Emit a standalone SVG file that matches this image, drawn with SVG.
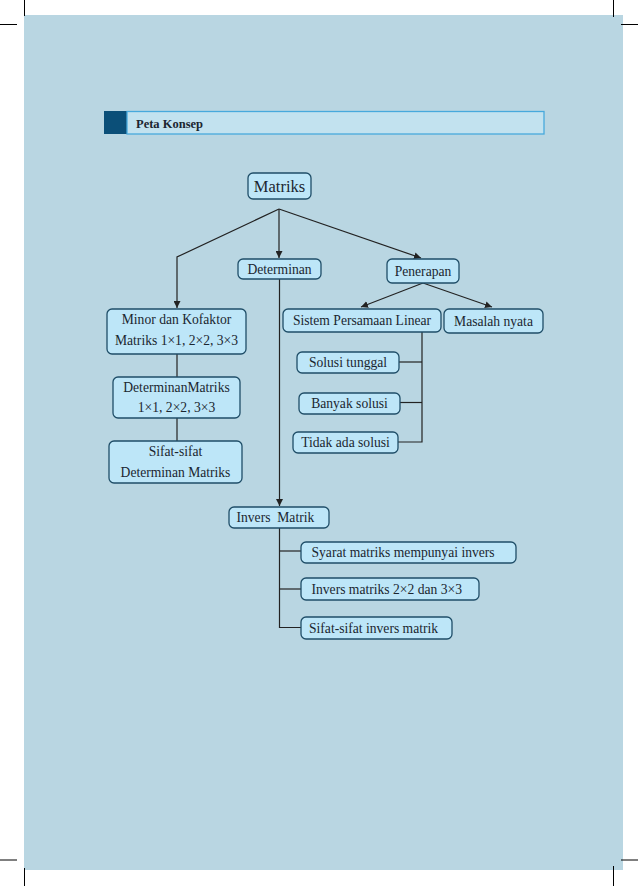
<svg xmlns="http://www.w3.org/2000/svg" width="638" height="886" viewBox="0 0 638 886">
<style>
.box{fill:#bde6f8;stroke:#1f4e68;stroke-width:1.3}
.t{font-family:"Liberation Serif","Times New Roman",serif;font-size:13.6px;fill:#1b2630}
.m{text-anchor:middle}
.ln{fill:none;stroke:#222;stroke-width:1.2}
.crop{stroke:#000;stroke-width:1}
</style>
<defs>
<marker id="ah" viewBox="0 0 10 10" refX="10" refY="5" markerWidth="7" markerHeight="7" markerUnits="userSpaceOnUse" orient="auto">
<path d="M0,0 L10,5 L0,10 z" fill="#222"/>
</marker>
</defs>
<rect x="0" y="0" width="638" height="886" fill="#fff"/>
<rect x="24" y="15" width="599" height="855" fill="#b9d6e2"/>
<g id="cropmarks">
<line class="crop" x1="24.5" y1="0" x2="24.5" y2="16"/>
<line class="crop" x1="0" y1="24.5" x2="17" y2="24.5"/>
<line class="crop" x1="613.5" y1="0" x2="613.5" y2="17"/>
<line class="crop" x1="621" y1="24.5" x2="638" y2="24.5"/>
<line class="crop" x1="0" y1="860" x2="17" y2="860"/>
<line class="crop" x1="24.5" y1="868" x2="24.5" y2="886"/>
<line class="crop" x1="621" y1="860" x2="638" y2="860"/>
<line class="crop" x1="613.5" y1="866" x2="613.5" y2="886"/>
</g>
<g id="header">
<rect x="104" y="111" width="23" height="23" fill="#0b4f78"/>
<rect x="127" y="111.5" width="417" height="22.5" fill="#c2e2ef" stroke="#47a9dc" stroke-width="1.3"/>
<text x="136" y="127.5" style="font-family:'Liberation Serif','Times New Roman',serif;font-size:12.5px;font-weight:bold;fill:#1b2630">Peta Konsep</text>
</g>
<g id="connectors">
<polyline class="ln" points="279,209 177,257 177,308" marker-end="url(#ah)"/>
<line class="ln" x1="279" y1="209" x2="279" y2="258" marker-end="url(#ah)"/>
<line class="ln" x1="279" y1="209" x2="421" y2="258" marker-end="url(#ah)"/>
<line class="ln" x1="423" y1="283" x2="361" y2="307" marker-end="url(#ah)"/>
<line class="ln" x1="423" y1="283" x2="492" y2="307" marker-end="url(#ah)"/>
<line class="ln" x1="177" y1="354" x2="177" y2="377"/>
<line class="ln" x1="177" y1="418" x2="177" y2="441"/>
<line class="ln" x1="279.5" y1="279" x2="279.5" y2="506" marker-end="url(#ah)"/>
<polyline class="ln" points="422,332 422,442 398,442"/>
<line class="ln" x1="399" y1="362" x2="422" y2="362"/>
<line class="ln" x1="400" y1="402.5" x2="422" y2="402.5"/>
<polyline class="ln" points="279.5,528 279.5,627.5 301,627.5"/>
<line class="ln" x1="279.5" y1="551" x2="301" y2="551"/>
<line class="ln" x1="279.5" y1="589" x2="301" y2="589"/>
</g>
<g id="n-matriks">
<rect class="box" x="248" y="173" width="63" height="26" rx="5"/>
<text class="t m" x="279.5" y="192" style="font-size:16.5px">Matriks</text>
</g>
<g id="n-determinan">
<rect class="box" x="238" y="259" width="83" height="20" rx="5"/>
<text class="t m" x="279.5" y="273.5">Determinan</text>
</g>
<g id="n-penerapan">
<rect class="box" x="387" y="259" width="72" height="24" rx="5"/>
<text class="t m" x="423" y="275.5">Penerapan</text>
</g>
<g id="n-minor">
<rect class="box" x="107" y="309" width="139" height="45" rx="5"/>
<text class="t m" x="176.5" y="323.5">Minor dan Kofaktor</text>
<text class="t m" x="176.5" y="344.5">Matriks 1×1, 2×2, 3×3</text>
</g>
<g id="n-detmatriks">
<rect class="box" x="113" y="377" width="127" height="41" rx="5"/>
<text class="t m" x="176.5" y="391.5">DeterminanMatriks</text>
<text class="t m" x="176.5" y="411.5">1×1, 2×2, 3×3</text>
</g>
<g id="n-sifat">
<rect class="box" x="109" y="441" width="133" height="42" rx="5"/>
<text class="t m" x="175.5" y="455.5">Sifat-sifat</text>
<text class="t m" x="175.5" y="476.5">Determinan Matriks</text>
</g>
<g id="n-sistem">
<rect class="box" x="283" y="309" width="158" height="23" rx="5"/>
<text class="t m" x="362" y="325">Sistem Persamaan Linear</text>
</g>
<g id="n-masalah">
<rect class="box" x="444" y="309" width="99" height="24" rx="5"/>
<text class="t m" x="493.5" y="325.5">Masalah nyata</text>
</g>
<g id="n-tunggal">
<rect class="box" x="297" y="352" width="102" height="21" rx="5"/>
<text class="t m" x="348" y="366.5">Solusi tunggal</text>
</g>
<g id="n-banyak">
<rect class="box" x="299" y="393" width="101" height="21" rx="5"/>
<text class="t m" x="349.5" y="407.5">Banyak solusi</text>
</g>
<g id="n-tidak">
<rect class="box" x="293" y="432" width="105" height="21" rx="5"/>
<text class="t m" x="345.5" y="446.5">Tidak ada solusi</text>
</g>
<g id="n-invers">
<rect class="box" x="229" y="507" width="100" height="21" rx="5"/>
<text class="t" x="236.5" y="521.5" xml:space="preserve">Invers  Matrik</text>
</g>
<g id="n-syarat">
<rect class="box" x="301" y="542" width="215" height="21" rx="5"/>
<text class="t" x="311.5" y="557">Syarat matriks mempunyai invers</text>
</g>
<g id="n-invers22">
<rect class="box" x="301" y="578" width="178" height="22" rx="5"/>
<text class="t" x="311.5" y="594">Invers matriks 2×2 dan 3×3</text>
</g>
<g id="n-sifatinvers">
<rect class="box" x="301" y="617" width="151" height="22" rx="5"/>
<text class="t" x="309" y="633">Sifat-sifat invers matrik</text>
</g>
</svg>
